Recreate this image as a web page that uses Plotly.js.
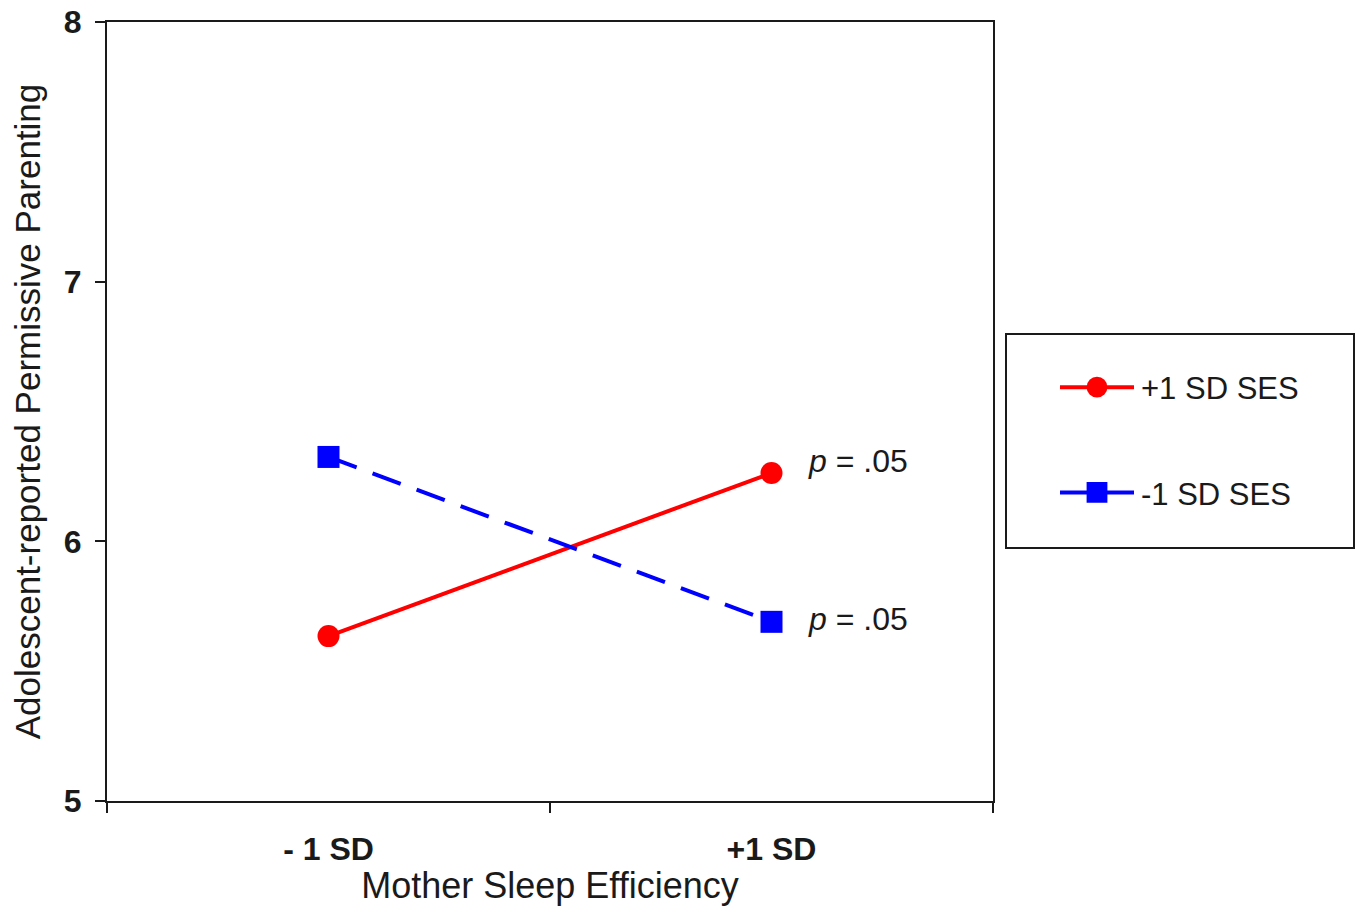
<!DOCTYPE html>
<html><head><meta charset="utf-8">
<script src="https://cdn.plot.ly/plotly-3.0.1.min.js"></script>
<style>html,body{margin:0;padding:0;background:#fff}</style>
</head><body><div id="chart" style="width:1359px;height:906px"></div>
<script>
// ---- data ----
const categories = ['- 1 SD', '+1 SD'];
const highSES = [5.635, 6.263];   // +1 SD SES
const lowSES = [6.325, 5.69];     // -1 SD SES
const seriesNames = ['+1 SD SES', '-1 SD SES'];
const pLabels = ['<i>p</i> = .05', '<i>p</i> = .05'];
const yTicks = [5, 6, 7, 8];

const FONT = '"Liberation Sans", Arial, Helvetica, sans-serif';
const INK = '#1a1a1a';

const traces = [
  {
    x: categories, y: highSES, name: seriesNames[0], legendgroup: 'a',
    type: 'scatter', mode: 'lines+markers',
    line: {color: '#ff0000', width: 4},
    marker: {color: '#ff0000', symbol: 'circle', size: 22}
  },
  {
    x: categories, y: lowSES, name: seriesNames[1], legendgroup: 'b',
    type: 'scatter', mode: 'lines+markers',
    line: {color: '#0000ff', width: 4, dash: '30px,17px'},
    marker: {color: '#0000ff', symbol: 'square', size: 22}
  }
];

const W = 1359, H = 906;
const L = 107, R = 993, T = 22, B = 801;
const px = v => (v - L) / (R - L);
const py = v => (B - v) / (B - T);

const layout = {
  width: W, height: H, autosize: false,
  margin: {l: L, r: W - R, t: T, b: H - B, pad: 0},
  paper_bgcolor: '#fff', plot_bgcolor: '#fff',
  font: {family: FONT, color: INK},
  showlegend: true,
  legend: {
    x: px(1055), xanchor: 'left', y: py(440), yanchor: 'middle',
    font: {family: FONT, size: 31, color: INK},
    bgcolor: 'rgba(0,0,0,0)', borderwidth: 0,
    tracegroupgap: 62, itemwidth: 76, traceorder: 'grouped'
  },
  xaxis: {
    type: 'category', categoryarray: categories, range: [-0.5, 1.5],
    tickson: 'boundaries', ticks: 'outside', ticklen: 10, tickwidth: 2, tickcolor: INK,
    showline: true, linewidth: 2, linecolor: INK, mirror: true,
    showgrid: false, zeroline: false,
    tickfont: {family: FONT, size: 32, weight: 'bold', color: INK},
    ticklabelstandoff: 19,
    title: {text: 'Mother Sleep Efficiency', font: {family: FONT, size: 36, color: INK}, standoff: 0}
  },
  yaxis: {
    range: [5, 8], tickvals: yTicks, ticktext: yTicks.map(String),
    ticks: 'outside', ticklen: 10, tickwidth: 2, tickcolor: INK,
    showline: true, linewidth: 2, linecolor: INK, mirror: true,
    showgrid: false, zeroline: false,
    tickfont: {family: FONT, size: 32, weight: 'bold', color: INK},
    ticklabelstandoff: 7,
    title: {text: 'Adolescent-reported Permissive Parenting', font: {family: FONT, size: 35, color: INK}, standoff: 13}
  },
  shapes: [{
    type: 'rect', xref: 'paper', yref: 'paper',
    x0: px(1006), x1: px(1354), y0: py(548), y1: py(334),
    line: {color: INK, width: 2}, fillcolor: 'rgba(0,0,0,0)'
  }],
  annotations: [
    {x: categories[1], y: 6.31, xref: 'x', yref: 'y', text: pLabels[0], showarrow: false,
     xanchor: 'left', yanchor: 'middle', xshift: 34, font: {family: FONT, size: 32, color: INK}},
    {x: categories[1], y: 5.70, xref: 'x', yref: 'y', text: pLabels[1], showarrow: false,
     xanchor: 'left', yanchor: 'middle', xshift: 34, font: {family: FONT, size: 32, color: INK}}
  ]
};

const gd = document.getElementById('chart');
Plotly.newPlot(gd, traces, layout, {displayModeBar: false, staticPlot: true}).then(() => {
  // widen legend line samples and enlarge legend markers to match the reference
  gd.querySelectorAll('.legend .legendlines path').forEach(p => p.setAttribute('d', 'M5,0h74'));
  gd.querySelectorAll('.legend .legendpoints path').forEach(p => p.setAttribute('transform', 'translate(42,0) scale(1.3)'));
});
</script>
</body></html>
